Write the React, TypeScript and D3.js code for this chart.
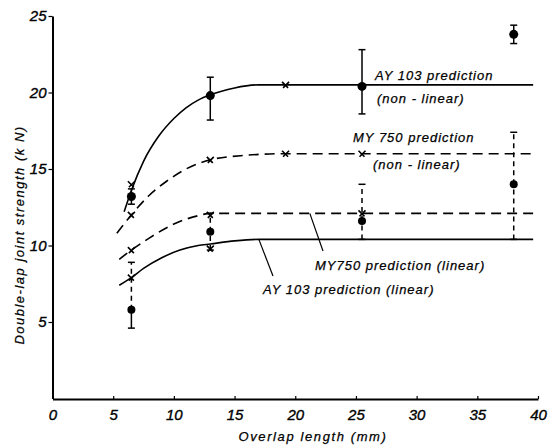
import React, { useRef, useEffect } from 'react';
import * as d3 from 'd3';

// prediction curves, [overlap mm, strength kN]
const ayNonLinear: [number, number][] = [[5.9, 12.2], [6.5, 13.6], [7.5, 15.5], [8.8, 17.2], [10, 18.3], [11, 19.0], [12, 19.5], [13, 19.85], [15, 20.3], [17, 20.5], [39.6, 20.5]];
const myNonLinear: [number, number][] = [[5.3, 10.8], [6.5, 12.0], [8, 13.3], [9.4, 14.2], [11, 15.0], [13, 15.6], [16, 15.9], [19, 16.0], [39.6, 16.0]];
const myLinear: [number, number][] = [[5.5, 9.1], [6.5, 9.7], [8, 10.5], [10, 11.4], [12, 11.95], [13, 12.1], [39.6, 12.1]];
const ayLinear: [number, number][] = [[5.5, 7.4], [6.5, 7.9], [7.5, 8.5], [9, 9.2], [10.5, 9.7], [12, 10.0], [13, 10.1], [15, 10.3], [17, 10.4], [39.6, 10.4]];

// x marks on the prediction curves
const predMarks: [number, number][] = [
  [6.5, 14.0], [19.2, 20.5],
  [6.5, 12.0], [13, 15.6], [19.2, 16.0], [25.5, 16.0],
  [6.5, 9.7], [13, 12.0], [25.5, 12.1],
  [6.5, 7.9], [13, 9.8],
];

// experimental results
const expX = [6.5, 13, 25.5, 38];
const ayMean = [13.2, 19.8, 20.4, 23.8];
const ayLo = [12.7, 18.2, 18.6, 23.2];
const ayHi = [13.7, 21.0, 22.8, 24.4];
const myMean = [5.8, 10.9, 11.6, 14.0];
const myLo = [4.6, 9.7, 10.4, 10.4];
const myHi = [8.9, 12.1, 14.0, 17.4];

const xTicks = [0, 5, 10, 15, 20, 25, 30, 35, 40];
const yTicks = [5, 10, 15, 20, 25];

const FONT = '"Liberation Sans", Arial, sans-serif';

const App = () => {
  const xAxisRef = useRef<SVGGElement>(null);
  const yAxisRef = useRef<SVGGElement>(null);

  const x = d3.scaleLinear().domain([0, 40]).range([52.5, 538]);
  const y = d3.scaleLinear().domain([0, 25]).range([398.5, 16]);

  useEffect(() => {
    const xa = d3.select(xAxisRef.current!);
    xa.call(d3.axisBottom(x).tickValues(xTicks).tickSize(3).tickPadding(7.5).tickSizeOuter(0) as any);
    xa.select('.domain').attr('stroke-width', 2);
    xa.selectAll('.tick line').attr('stroke-width', 1.2).attr('y2', -3);
    xa.selectAll('.tick text')
      .style('font-family', FONT).style('font-style', 'italic').style('font-size', '15px')
      .attr('stroke', '#000').attr('stroke-width', 0.35);

    const ya = d3.select(yAxisRef.current!);
    ya.call(d3.axisLeft(y).tickValues(yTicks).tickSize(4).tickPadding(2).tickSizeOuter(0) as any);
    ya.select('.domain').attr('stroke-width', 2);
    ya.selectAll('.tick line').attr('stroke-width', 1.2);
    ya.selectAll('.tick text')
      .style('font-family', FONT).style('font-style', 'italic').style('font-size', '15px')
      .attr('stroke', '#000').attr('stroke-width', 0.35);
  }, []);

  const line = d3.line<[number, number]>()
    .x(d => x(d[0]))
    .y(d => y(d[1]))
    .curve(d3.curveMonotoneX);

  const txt = { fontFamily: FONT, fontStyle: 'italic' as const, fontSize: 13, letterSpacing: 1, stroke: '#000', strokeWidth: 0.25 };

  const errBar = (i: number, mean: number[], lo: number[], hi: number[], dashed: boolean, key: string) => {
    const cx = x(expX[i]);
    // lowest MY750 point has a solid lower half
    const solidBelow = dashed && i === 0;
    return (
      <g key={key} stroke="#000" strokeWidth={1.5}>
        <line x1={cx} x2={cx} y1={y(mean[i])} y2={y(hi[i])} strokeDasharray={dashed ? '5 4' : undefined} />
        <line x1={cx} x2={cx} y1={y(lo[i])} y2={y(mean[i])} strokeDasharray={dashed && !solidBelow ? '5 4' : undefined} />
        <line x1={cx - 3.5} x2={cx + 3.5} y1={y(lo[i])} y2={y(lo[i])} />
        <line x1={cx - 3.5} x2={cx + 3.5} y1={y(hi[i])} y2={y(hi[i])} />
      </g>
    );
  };

  return (
    <svg width={549} height={447} style={{ position: 'absolute', left: 0, top: 0, background: '#fff' }}>
      <g ref={xAxisRef} transform={`translate(0,${y(0) + 0.5})`} />
      <g ref={yAxisRef} transform={`translate(${x(0)},0)`} />

      {/* prediction curves */}
      <path d={line(ayNonLinear)!} fill="none" stroke="#000" strokeWidth={1.6} />
      <path d={line(myNonLinear)!} fill="none" stroke="#000" strokeWidth={1.6} strokeDasharray="10 6" />
      <path d={line(myLinear)!} fill="none" stroke="#000" strokeWidth={1.6} strokeDasharray="10 6" />
      <path d={line(ayLinear)!} fill="none" stroke="#000" strokeWidth={1.6} />

      {/* error bars */}
      {expX.map((_, i) => errBar(i, ayMean, ayLo, ayHi, false, 'ay' + i))}
      {expX.map((_, i) => errBar(i, myMean, myLo, myHi, true, 'my' + i))}

      {/* experimental points */}
      {expX.map((d, i) => <circle key={'ac' + i} cx={x(d)} cy={y(ayMean[i])} r={4.5} fill="#000" />)}
      {expX.map((d, i) => <circle key={'mc' + i} cx={x(d)} cy={y(myMean[i])} r={4} fill="#000" />)}

      {/* prediction x marks */}
      {predMarks.map((d, i) => {
        const cx = x(d[0]);
        const cy = y(d[1]);
        return (
          <g key={'pm' + i} stroke="#000" strokeWidth={1.6}>
            <line x1={cx - 2.5} x2={cx + 3.5} y1={cy + 3} y2={cy - 3} />
            <line x1={cx - 3.5} x2={cx + 2.5} y1={cy - 3} y2={cy + 3} />
          </g>
        );
      })}

      {/* annotations */}
      <text x={375} y={80} style={txt}>AY 103 prediction</text>
      <text x={377} y={103} style={txt}>(non - linear)</text>
      <text x={353} y={142} style={txt}>MY 750 prediction</text>
      <text x={373} y={169} style={txt}>(non - linear)</text>
      <text x={315} y={270} style={txt}>MY750 prediction (linear)</text>
      <text x={263} y={294} style={txt}>AY 103 prediction (linear)</text>
      <line x1={x(21.2)} y1={y(12.1)} x2={323} y2={251} stroke="#000" strokeWidth={1.2} />
      <line x1={x(17)} y1={y(10.4)} x2={273} y2={276} stroke="#000" strokeWidth={1.2} />

      {/* axis titles */}
      <text x={313} y={441} textAnchor="middle" style={{ ...txt, letterSpacing: 1.6 }}>Overlap length (mm)</text>
      <text transform="translate(24,235) rotate(-90)" textAnchor="middle" style={{ ...txt, letterSpacing: 1.5 }}>Double-lap joint strength (k N)</text>
    </svg>
  );
};

export default App;
